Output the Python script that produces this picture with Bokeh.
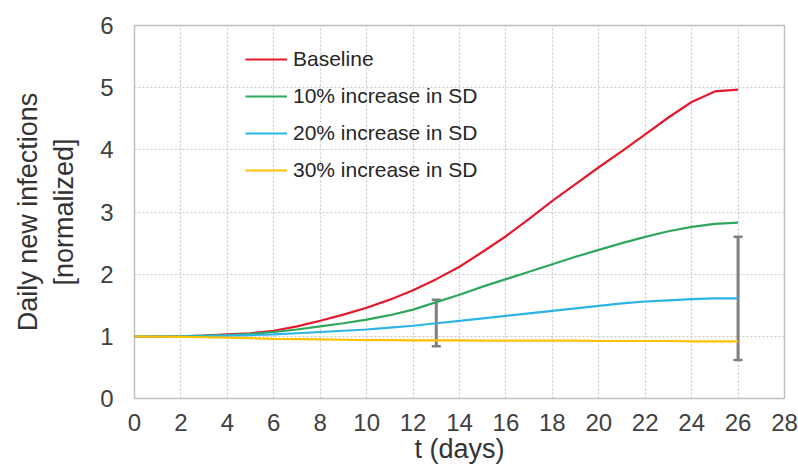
from bokeh.plotting import figure
from bokeh.models import FixedTicker, ColumnDataSource, Whisker, TeeHead
from bokeh.embed import file_html
from bokeh.resources import INLINE

days = list(range(0, 27))
baseline = [1.00, 1.00, 1.00, 1.01, 1.03, 1.05, 1.09, 1.16, 1.25, 1.35, 1.46, 1.59, 1.74, 1.92,
            2.12, 2.36, 2.61, 2.89, 3.18, 3.45, 3.72, 3.98, 4.25, 4.52, 4.77, 4.94, 4.97]
sd10 = [1.00, 1.00, 1.00, 1.01, 1.02, 1.04, 1.07, 1.11, 1.16, 1.21, 1.27, 1.34, 1.43, 1.55,
        1.67, 1.80, 1.92, 2.04, 2.16, 2.28, 2.39, 2.50, 2.60, 2.69, 2.76, 2.81, 2.83]
sd20 = [1.00, 1.00, 1.00, 1.00, 1.01, 1.02, 1.03, 1.05, 1.07, 1.09, 1.11, 1.14, 1.17, 1.21,
        1.25, 1.29, 1.33, 1.37, 1.41, 1.45, 1.49, 1.53, 1.56, 1.58, 1.60, 1.61, 1.61]
sd30 = [1.00, 0.995, 0.99, 0.985, 0.98, 0.97, 0.96, 0.955, 0.95, 0.945, 0.94, 0.94, 0.935, 0.935,
        0.935, 0.93, 0.93, 0.93, 0.93, 0.93, 0.925, 0.925, 0.925, 0.925, 0.92, 0.92, 0.92]

series_names = ["Baseline", "10% increase in SD", "20% increase in SD", "30% increase in SD"]
series_colors = ["#e5192b", "#2fa75c", "#2db4e6", "#ffc000"]

err_x = [13, 26]
err_lower = [0.84, 0.62]
err_upper = [1.59, 2.60]

x_ticks = list(range(0, 29, 2))
y_ticks = list(range(0, 7))

x_title = "t (days)"
y_title = "Daily new infections\n[normalized]"

FONT = "Liberation Sans"

p = figure(width=798, height=472, x_range=(0, 28), y_range=(0, 6),
           output_backend="svg", toolbar_location=None,
           min_border_left=134, min_border_right=14, min_border_top=25, min_border_bottom=74)

p.background_fill_color = "white"
p.border_fill_color = "white"
p.outline_line_color = "#bfbfbf"
p.outline_line_width = 1.5

for ax in (p.xaxis[0], p.yaxis[0]):
    ax.axis_line_color = None
    ax.major_tick_line_color = None
    ax.minor_tick_line_color = None
    ax.major_tick_out = 0
    ax.major_tick_in = 0
    ax.minor_tick_out = 0
    ax.major_label_text_font = FONT
    ax.major_label_text_font_size = "24px"
    ax.major_label_text_color = "#404040"
    ax.axis_label_text_font = FONT
    ax.axis_label_text_font_style = "normal"
    ax.axis_label_text_color = "#333333"

p.xaxis.ticker = FixedTicker(ticks=x_ticks)
p.yaxis.ticker = FixedTicker(ticks=y_ticks)
p.xaxis.major_label_standoff = 15
p.yaxis.major_label_standoff = 21
p.xaxis.axis_label = x_title
p.yaxis.axis_label = y_title
p.xaxis.axis_label_text_font_size = "27px"
p.yaxis.axis_label_text_font_size = "27px"
p.xaxis.axis_label_standoff = 0
p.yaxis.axis_label_standoff = 18

p.xgrid.ticker = FixedTicker(ticks=x_ticks)
p.ygrid.ticker = FixedTicker(ticks=y_ticks)
for g in (p.xgrid[0], p.ygrid[0]):
    g.grid_line_color = "#c8c8c8"
    g.grid_line_dash = "2 2"
    g.grid_line_width = 1.2

for ys, name, col in zip([baseline, sd10, sd20, sd30], series_names, series_colors):
    p.line(days, ys, line_color=col, line_width=2.2, legend_label=name)

src = ColumnDataSource(dict(base=err_x, lower=err_lower, upper=err_upper))
wh = Whisker(source=src, base="base", lower="lower", upper="upper",
             line_color="#7f7f7f", line_width=3,
             upper_head=TeeHead(size=9, line_color="#7f7f7f", line_width=2.5),
             lower_head=TeeHead(size=9, line_color="#7f7f7f", line_width=2.5))
p.add_layout(wh)

lg = p.legend[0]
lg.location = (111, 216)
lg.border_line_color = None
lg.background_fill_alpha = 0
lg.padding = 0
lg.margin = 0
lg.spacing = 13
lg.glyph_width = 42
lg.glyph_height = 20
lg.label_height = 20
lg.label_standoff = 6
lg.label_text_font = FONT
lg.label_text_font_size = "21px"
lg.label_text_color = "#262626"

open("out.html", "w").write(file_html(p, INLINE))
